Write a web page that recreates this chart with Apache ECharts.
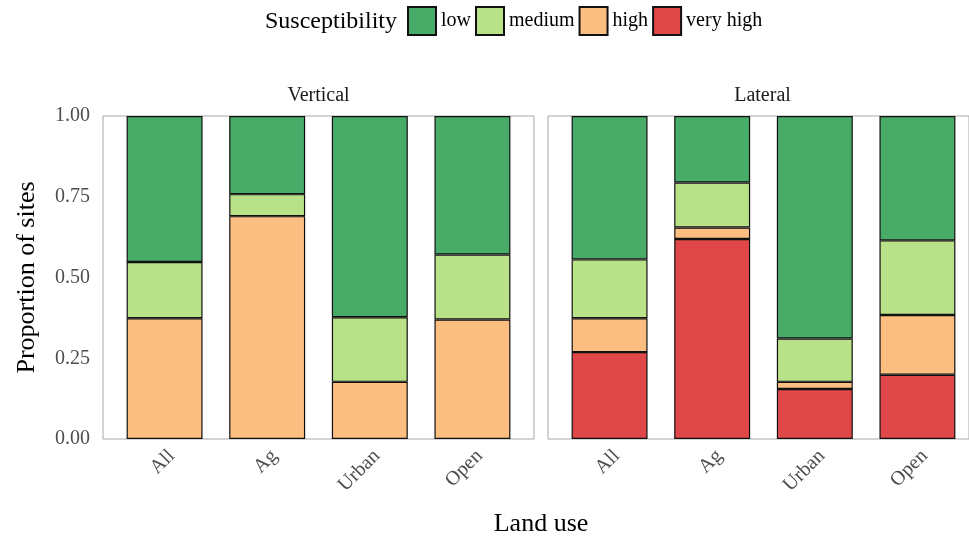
<!DOCTYPE html>
<html>
<head>
<meta charset="utf-8">
<script src="https://cdn.jsdelivr.net/npm/echarts@6/dist/echarts.min.js"></script>
<style>html,body{margin:0;padding:0;background:#fff}#c{width:969px;height:543px}</style>
</head>
<body>
<div id="c"></div>
<script>
// Data
const categories = ['All', 'Ag', 'Urban', 'Open'];
const levels = ['low', 'medium', 'high', 'very high'];
const panels = ['Vertical', 'Lateral'];
const yTicks = [0, 0.25, 0.5, 0.75, 1];

// Vertical panel: segment proportions
const vertLow = [0.452, 0.242, 0.623, 0.429];
const vertMedium = [0.174, 0.068, 0.200, 0.201];
const vertHigh = [0.374, 0.690, 0.177, 0.370];

// Lateral panel: segment proportions
const latLow = [0.444, 0.206, 0.689, 0.385];
const latMedium = [0.182, 0.139, 0.134, 0.231];
const latHigh = [0.105, 0.036, 0.022, 0.185];
const latVeryHigh = [0.269, 0.619, 0.155, 0.199];

const colors = {'low': '#48AB67', 'medium': '#B8E188', 'high': '#FDBE81', 'very high': '#DF4749'};

const SERIF = '"Liberation Serif", "DejaVu Serif", serif';
const chart = echarts.init(document.getElementById('c'), null, {renderer: 'canvas'});

const panelTop = 116, panelH = 323, panelW = 431;
const leftX = [103, 548];
const unit = panelW / 4.2;
const inset = unit * 0.1;

function bar(name, data, gi) {
  return {
    name: name, type: 'bar', stack: 'p' + gi, data: data,
    xAxisIndex: gi, yAxisIndex: gi, barWidth: '74%',
    itemStyle: {color: colors[name], borderColor: '#111', borderWidth: 1.2},
    emphasis: {disabled: true}
  };
}

const grids = [], xAxes = [], yAxes = [];
for (let i = 0; i < 2; i++) {
  grids.push({left: leftX[i] + inset, top: panelTop, width: unit * 4, height: panelH});
  xAxes.push({
    type: 'category', gridIndex: i, data: categories,
    axisLine: {show: false}, axisTick: {show: false},
    axisLabel: {rotate: 45, margin: 7, verticalAlign: 'top', color: '#4d4d4d', fontFamily: SERIF, fontSize: 20}
  });
  yAxes.push({type: 'value', gridIndex: i, min: 0, max: 1, interval: 0.25, show: false});
}
for (let i = 0; i < 2; i++) {
  grids.push({left: leftX[i], top: panelTop, width: panelW, height: panelH, show: true,
    borderColor: '#a8a8a8', borderWidth: 1, backgroundColor: 'transparent', z: 0});
  xAxes.push({type: 'value', gridIndex: 2 + i, min: 0, max: 1, show: false});
  yAxes.push({
    type: 'value', gridIndex: 2 + i, min: 0, max: 1, interval: 0.25, show: i === 0,
    axisLine: {show: false}, axisTick: {show: false}, splitLine: {show: false},
    axisLabel: {margin: 13, color: '#4d4d4d', fontFamily: SERIF, fontSize: 20,
      formatter: v => v.toFixed(2)},
    name: i === 0 ? 'Proportion of sites' : '', nameLocation: 'middle', nameGap: 63,
    nameTextStyle: {fontFamily: SERIF, fontSize: 26, color: '#000'}
  });
}

const series = [
  bar('high', vertHigh, 0),
  bar('medium', vertMedium, 0),
  bar('low', vertLow, 0),
  bar('very high', latVeryHigh, 1),
  bar('high', latHigh, 1),
  bar('medium', latMedium, 1),
  bar('low', latLow, 1)
];

chart.setOption({
  animation: false,
  grid: grids, xAxis: xAxes, yAxis: yAxes, series: series,
  legend: {
    data: levels, left: 407, top: 6, orient: 'horizontal', padding: 0,
    itemWidth: 28, itemHeight: 28, itemGap: 4, icon: 'rect',
    textStyle: {fontFamily: SERIF, fontSize: 20, color: '#000'},
    selectedMode: false
  },
  graphic: [
    {type: 'text', x: 265, y: 22, style: {text: 'Susceptibility', font: '24px ' + SERIF, fill: '#000', textAlign: 'left', textVerticalAlign: 'middle'}},
    {type: 'text', x: leftX[0] + panelW / 2, y: 96, style: {text: panels[0], font: '20px ' + SERIF, fill: '#1a1a1a', textAlign: 'center', textVerticalAlign: 'middle'}},
    {type: 'text', x: leftX[1] + panelW / 2 - 1, y: 96, style: {text: panels[1], font: '20px ' + SERIF, fill: '#1a1a1a', textAlign: 'center', textVerticalAlign: 'middle'}},
    {type: 'text', x: 541, y: 524, style: {text: 'Land use', font: '26px ' + SERIF, fill: '#000', textAlign: 'center', textVerticalAlign: 'middle'}}
  ]
});
</script>
</body>
</html>
